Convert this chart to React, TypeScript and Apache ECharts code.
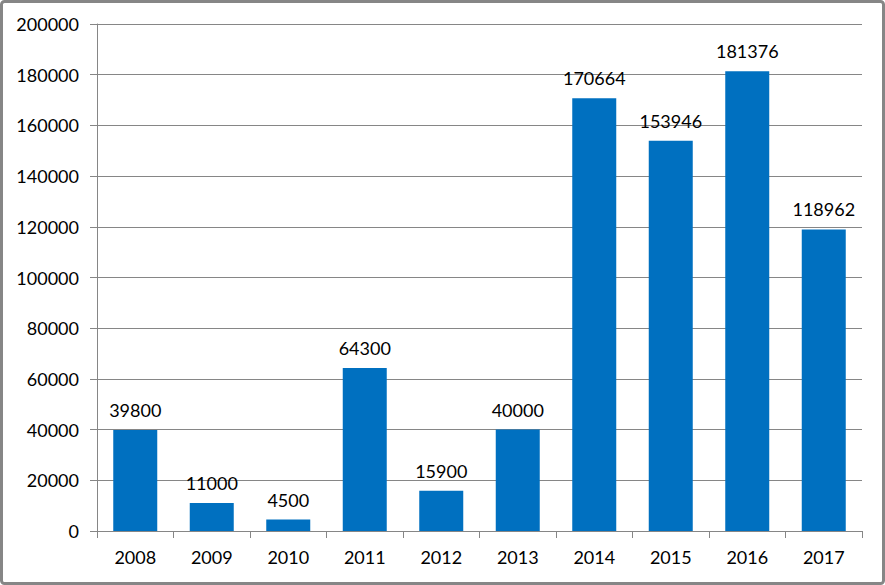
import React, { useEffect, useRef } from "react";
import * as echarts from "echarts";

const categories = ["2008", "2009", "2010", "2011", "2012", "2013", "2014", "2015", "2016", "2017"];
const values = [39800, 11000, 4500, 64300, 15900, 40000, 170664, 153946, 181376, 118962];
const yMin = 0;
const yMax = 200000;
const yInterval = 20000;

export default function App() {
  const ref = useRef<HTMLDivElement>(null);
  useEffect(() => {
    document.body.style.margin = "0";
    const chart = echarts.init(ref.current!, null, { renderer: "svg" });
    const font = "Lato, 'Open Sans', sans-serif";
    chart.setOption({
      animation: false,
      backgroundColor: "#ffffff",
      textStyle: { fontFamily: font },
      grid: { left: 97, right: 23, top: 24, bottom: 54, containLabel: false },
      graphic: [
        {
          type: "rect",
          shape: { x: 1.5, y: 1.5, width: 882, height: 582, r: 3 },
          style: { fill: "none", stroke: "#868686", lineWidth: 3 },
          silent: true,
        },
      ],
      xAxis: {
        type: "category",
        data: categories,
        axisLine: { lineStyle: { color: "#868686", width: 1 } },
        axisTick: { show: true, length: 7, alignWithLabel: false, lineStyle: { color: "#868686" } },
        axisLabel: { color: "#000000", fontSize: 18, fontFamily: font, margin: 17 },
      },
      yAxis: {
        type: "value",
        min: yMin,
        max: yMax,
        interval: yInterval,
        axisLine: { show: true, lineStyle: { color: "#868686", width: 1 } },
        axisTick: { show: true, length: 7, lineStyle: { color: "#868686" } },
        splitLine: { show: true, lineStyle: { color: "#868686", width: 1 } },
        axisLabel: {
          color: "#000000",
          fontSize: 18,
          fontFamily: font,
          margin: 18,
          formatter: (v: number) => String(v),
        },
      },
      series: [
        {
          type: "bar",
          data: values,
          barWidth: 44,
          itemStyle: { color: "#0070C0" },
          label: {
            show: true,
            position: "top",
            distance: 11,
            color: "#000000",
            fontSize: 18,
            fontFamily: font,
          },
        },
      ],
    });
    return () => chart.dispose();
  }, []);
  return <div ref={ref} style={{ width: 885, height: 585 }} />;
}
